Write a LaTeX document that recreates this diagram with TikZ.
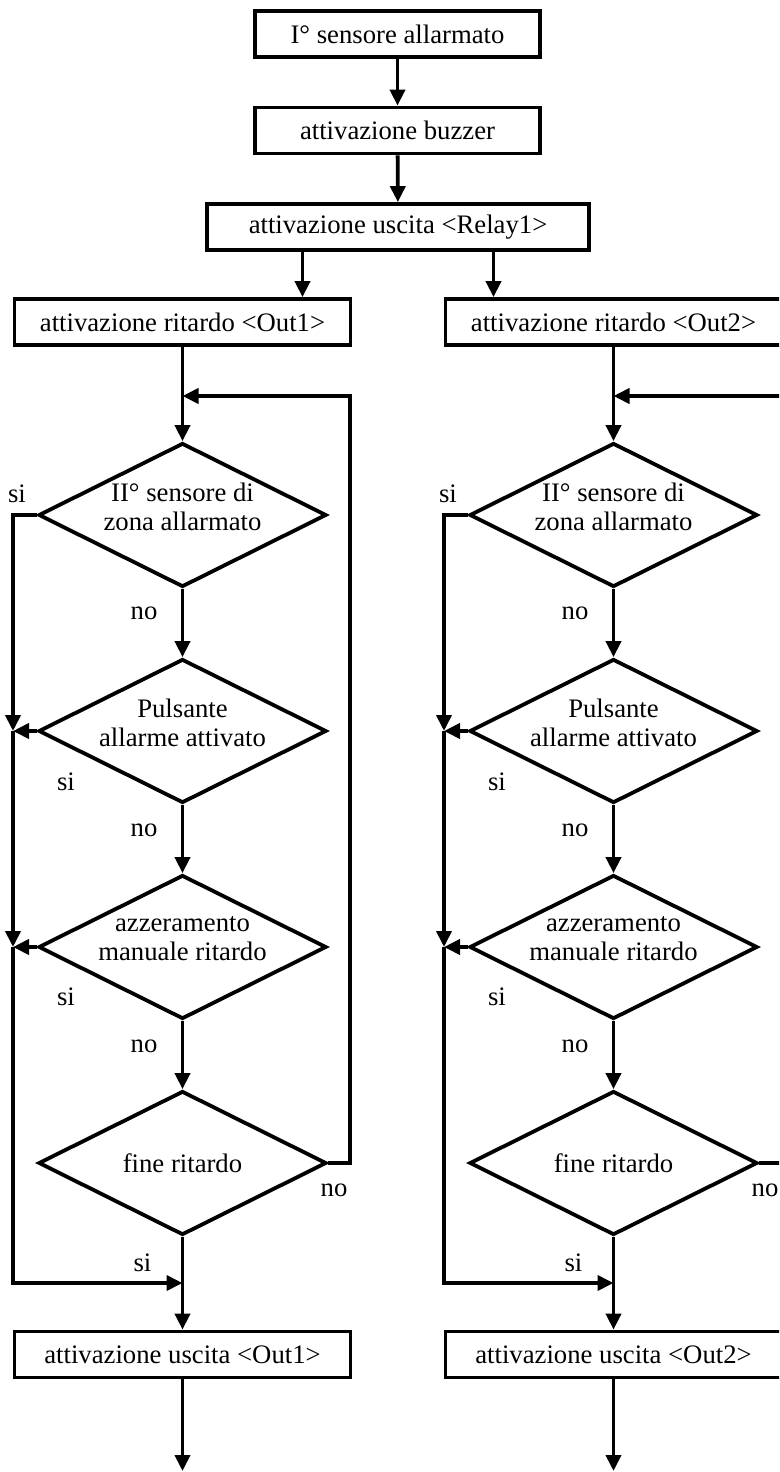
\documentclass[tikz,border=0pt]{standalone}
\usepackage{fontspec}
\setmainfont{Liberation Serif}
\usetikzlibrary{shapes.geometric,arrows.meta}
\newcommand\fs{\fontsize{26.7pt}{29pt}\selectfont}
\tikzset{
  box/.style={draw, line width=3.8pt, minimum height=46pt, inner sep=0pt, font=\fs},
  dia/.style={draw, diamond, aspect=2, minimum width=288pt, minimum height=144pt, inner sep=0pt, line width=3.8pt, font=\fs},
  dtext/.style={font=\fs, align=center, inner sep=0pt, yshift=8pt},
  arr/.style={line width=3.8pt, -{Triangle[length=16pt,width=15pt]}},
  lbl/.style={font=\fs, inner sep=0pt}
}
\begin{document}
\begin{tikzpicture}[x=1pt,y=-1pt]
\useasboundingbox (0,0) rectangle (779,1472);
\clip (0,0) rectangle (779,1472);
\fill[white] (0,0) rectangle (779,1472);

\node[box, minimum width=285pt] (s1) at (397.5,34) {I° sensore allarmato};
\node[box, minimum width=285pt] (bz) at (397.5,130.5) {attivazione buzzer};
\node[box, minimum width=382pt] (r1) at (398,227) {attivazione uscita <Relay1>};
\draw[arr] (s1) -- (bz);
\draw[arr] (bz) -- (r1);

\foreach \c/\k/\ax/\ex/\lo in {182.5/1/302.5/0/167.5,613.5/2/493.5/6/172}{
  \node[box, minimum width={336+\ex}] (rd\k) at ({\c+\ex/2},322) {attivazione ritardo <Out\k>\hspace*{\ex pt}};
  \coordinate (ra\k) at (\ax,0);
  \draw[arr] (r1.south -| ra\k) -- (rd\k.north -| ra\k);

  \node[dia, label={[dtext]center:{II° sensore di\\zona allarmato}}] (a\k) at (\c,515) {};
  \node[dia, label={[dtext]center:{Pulsante\\allarme attivato}}] (b\k) at (\c,731) {};
  \node[dia, label={[dtext]center:{azzeramento\\manuale ritardo}}] (c\k) at (\c,947) {};
  \node[dia] (f\k) at (\c,1163) {fine ritardo};
  \node[box, minimum width={336+\ex}] (o\k) at ({\c+\ex/2},1354.5) {attivazione uscita <Out\k>\hspace*{\ex pt}};

  % main flow
  \draw[arr] (rd\k.south -| a\k) -- (a\k);
  \draw[arr] (a\k) -- (b\k);
  \draw[arr] (b\k) -- (c\k);
  \draw[arr] (c\k) -- (f\k);
  \draw[arr] (f\k) -- (o\k.north -| f\k);
  \coordinate (bot\k) at (\c,1471);
  \draw[arr] (o\k.south -| bot\k) -- (bot\k);

  % loop back (no)
  \coordinate (lp\k) at (\c,396);
  \coordinate (rt\k) at ({\c+\lo},1163);
  \draw[arr] (f\k.east) -- (rt\k) -- (rt\k |- lp\k) -- (lp\k);

  % bypass (si)
  \coordinate (ja\k) at ({\c-169.5},515);
  \coordinate (jb\k) at ({\c-169.5},731);
  \coordinate (jc\k) at ({\c-169.5},947);
  \coordinate (jd\k) at ({\c-169.5},1283);
  \coordinate (je\k) at (\c,1283);
  \draw[arr] (a\k.west) -- (ja\k) -- (jb\k);
  \draw[arr] (b\k.west) -- (jb\k);
  \draw[arr] (jb\k) -- (jc\k);
  \draw[arr] (c\k.west) -- (jc\k);
  \draw[arr] (jc\k) -- (jd\k) -- (je\k);

  % labels
  \node[lbl] (sa\k) at ({\c-165.5},494) {si};
  \node[lbl] (sb\k) at ({\c-116.5},782) {si};
  \node[lbl] (sc\k) at ({\c-116.5},997) {si};
  \node[lbl] (sf\k) at ({\c-40},1263) {si};
  \node[lbl] (na\k) at ({\c-38.5},613) {no};
  \node[lbl] (nb\k) at ({\c-38.5},830) {no};
  \node[lbl] (nc\k) at ({\c-38.5},1046) {no};
  \node[lbl] (nf\k) at ({\c+151.5},1190) {no};
}
\end{tikzpicture}
\end{document}
